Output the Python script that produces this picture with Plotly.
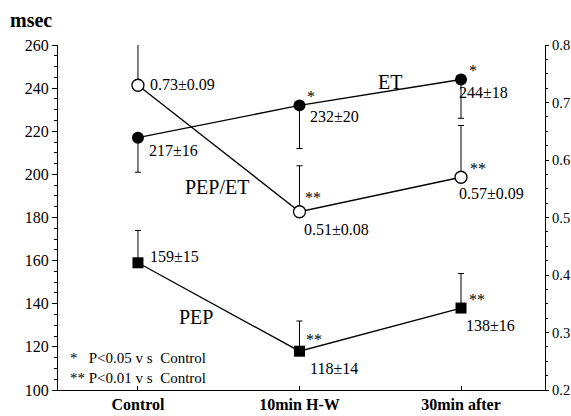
import plotly.graph_objects as go

categories = ["Control", "10min H-W", "30min after"]
et_mean = [217, 232, 244]
et_sd = [16, 20, 18]
pepet_mean = [0.73, 0.51, 0.57]
pepet_sd = [0.09, 0.08, 0.09]
pep_mean = [159, 118, 138]
pep_sd = [15, 14, 16]
et_sig = ["", "*", "*"]
pepet_sig = ["", "**", "**"]
pep_sig = ["", "**", "**"]

xs = list(range(len(categories)))
FONT = "Liberation Serif"

fig = go.Figure()
fig.add_trace(go.Scatter(
    x=xs, y=et_mean, mode="lines+markers",
    line=dict(color="black", width=1.3),
    marker=dict(symbol="circle", size=12, color="black"),
    error_y=dict(type="data", symmetric=False, array=[0, 0, 0], arrayminus=et_sd,
                 color="black", thickness=1, width=3),
    showlegend=False))
fig.add_trace(go.Scatter(
    x=xs, y=pepet_mean, mode="lines+markers", yaxis="y2",
    line=dict(color="black", width=1.3),
    marker=dict(symbol="circle", size=12, color="white", line=dict(color="black", width=1.3)),
    error_y=dict(type="data", symmetric=False, array=pepet_sd, arrayminus=[0, 0, 0],
                 color="black", thickness=1, width=3),
    showlegend=False))
fig.add_trace(go.Scatter(
    x=xs, y=pep_mean, mode="lines+markers",
    line=dict(color="black", width=1.3),
    marker=dict(symbol="square", size=11, color="black"),
    error_y=dict(type="data", symmetric=False, array=pep_sd, arrayminus=[0, 0, 0],
                 color="black", thickness=1, width=3),
    showlegend=False))

ann = []
def add(x, y, text, yref="y", xshift=0, yshift=0, size=16, xanchor="left"):
    ann.append(dict(x=x, y=y, xref="x", yref=yref, text=text, showarrow=False,
                    xanchor=xanchor, yanchor="middle", xshift=xshift, yshift=yshift,
                    font=dict(family=FONT, size=size, color="black")))

# ET value labels
et_offsets = [(9, -13), (9, -11), (-4, -13)]
for i, (m, s) in enumerate(zip(et_mean, et_sd)):
    add(i, m, f"{m}±{s}", xshift=et_offsets[i][0], yshift=et_offsets[i][1])
    if et_sig[i]:
        add(i, m, et_sig[i], xshift=6, yshift=9)
# PEP/ET labels
pe_offsets = [(10, 1), (3, -18), (-4, -16)]
for i, (m, s) in enumerate(zip(pepet_mean, pepet_sd)):
    add(i, m, f"{m:.2f}±{s:.2f}", yref="y2", xshift=pe_offsets[i][0], yshift=pe_offsets[i][1])
    if pepet_sig[i]:
        add(i, m, pepet_sig[i], yref="y2", xshift=4 if i == 1 else 7, yshift=14 if i == 1 else 9)
# PEP labels
pep_offsets = [(10, 6), (9, -17), (3, -17)]
for i, (m, s) in enumerate(zip(pep_mean, pep_sd)):
    add(i, m, f"{m}±{s}", xshift=pep_offsets[i][0], yshift=pep_offsets[i][1])
    if pep_sig[i]:
        add(i, m, pep_sig[i], xshift=5 if i == 1 else 6, yshift=12 if i == 1 else 9)

# Series names
add(1.56, 243, "ET", size=20, xanchor="center")
add(0.49, 194, "PEP/ET", size=20, xanchor="center")
add(0.36, 134, "PEP", size=20, xanchor="center")

# Significance legend
ann.append(dict(xref="paper", yref="paper", x=0.02, y=0.093, xanchor="left", yanchor="middle",
                text="*&nbsp;&nbsp;&nbsp;P&lt;0.05 v s&nbsp; Control", showarrow=False,
                font=dict(family=FONT, size=15, color="black")))
ann.append(dict(xref="paper", yref="paper", x=0.02, y=0.035, xanchor="left", yanchor="middle",
                text="** P&lt;0.01 v s&nbsp; Control", showarrow=False,
                font=dict(family=FONT, size=15, color="black")))
# Unit title
ann.append(dict(xref="paper", yref="paper", x=-0.103, y=1.072, xanchor="left", yanchor="middle",
                text="<b>msec</b>", showarrow=False,
                font=dict(family=FONT, size=20, color="black")))

fig.update_layout(
    width=571, height=416,
    margin=dict(l=58, r=26, t=45, b=26),
    paper_bgcolor="white", plot_bgcolor="white",
    font=dict(family=FONT, size=16, color="black"),
    annotations=ann,
    xaxis=dict(range=[-0.495, 2.52], tickvals=xs,
               ticktext=[f"<b>{c}</b>" for c in categories],
               ticks="inside", ticklen=4, tickcolor="black", showline=True, linecolor="black",
               linewidth=1.2, showgrid=False, zeroline=False, automargin=False,
               tickfont=dict(family=FONT, size=16)),
    yaxis=dict(range=[100, 260], dtick=20, ticks="outside", ticklen=5, tickcolor="black",
               showline=True, linecolor="black", linewidth=1.2, showgrid=False, zeroline=False,
               automargin=False, minor=dict(dtick=5, ticks="outside", ticklen=3, tickcolor="black"),
               tickfont=dict(family=FONT, size=16)),
    yaxis2=dict(range=[0.2, 0.8], dtick=0.1, overlaying="y", side="right", ticks="outside",
                ticklen=3, tickcolor="black", showline=True, linecolor="black", linewidth=1.2,
                showgrid=False, zeroline=False, automargin=False, tickformat=".1f",
                ticklabeloverflow="allow",
                minor=dict(dtick=0.025, ticks="outside", ticklen=2, tickcolor="black"),
                tickfont=dict(family=FONT, size=14.5)),
)

# Remove the page's default body margin so the 571x416 figure fills the window exactly.
fig.write_html("out.html",
               config={"displayModeBar": False},
               post_script="document.body.style.margin='0';document.body.style.overflow='hidden';")
